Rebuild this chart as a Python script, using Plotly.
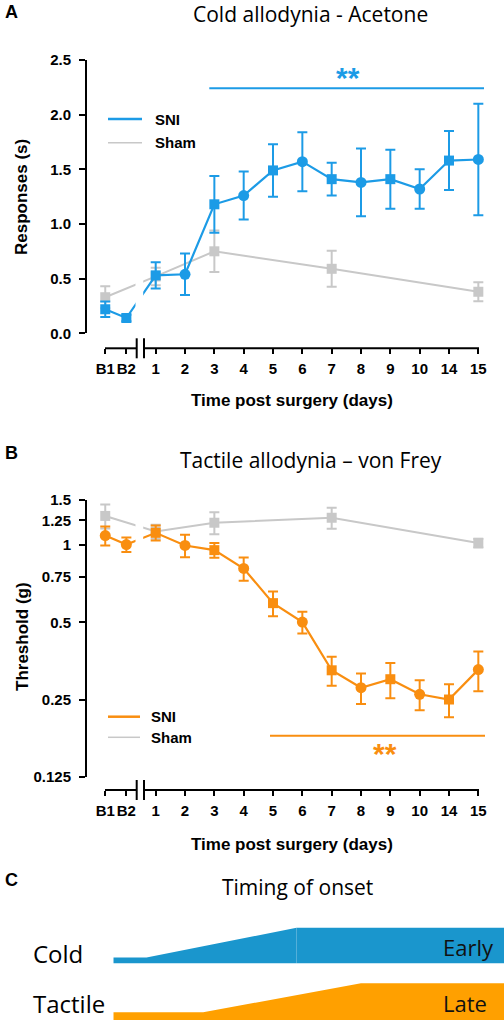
import plotly.graph_objects as go

# ---------------- data ----------------
days = ['B1', 'B2', '1', '2', '3', '4', '5', '6', '7', '8', '9', '10', '14', '15']
sham_days = ['B1', '1', '3', '7', '15']

# Panel A: cold allodynia (acetone), responses (s), mean and SEM
cold_sni = [0.22, 0.14, 0.53, 0.54, 1.18, 1.26, 1.49, 1.57, 1.41, 1.38, 1.41, 1.32, 1.58, 1.59]
cold_sni_sem = [0.07, 0.03, 0.12, 0.19, 0.26, 0.22, 0.24, 0.27, 0.15, 0.31, 0.27, 0.18, 0.27, 0.51]
cold_sham = [0.33, 0.52, 0.75, 0.59, 0.38]
cold_sham_sem = [0.10, 0.08, 0.19, 0.165, 0.087]

# Panel B: tactile allodynia (von Frey), threshold (g), mean and SEM
tact_sni = [1.09, 1.005, 1.117, 0.997, 0.956, 0.811, 0.594, 0.501, 0.325, 0.278, 0.300, 0.262, 0.250, 0.327]
tact_sni_sem = [0.093, 0.065, 0.075, 0.10, 0.063, 0.085, 0.066, 0.049, 0.042, 0.038, 0.047, 0.035, 0.037, 0.058]
tact_sham = [1.30, 1.13, 1.223, 1.279, 1.02]
tact_sham_sem = [0.14, 0.07, 0.12, 0.12, 0.04]

cold_ticks = [0, 0.5, 1.0, 1.5, 2.0, 2.5]
tact_ticks = [0.125, 0.25, 0.5, 0.75, 1, 1.25, 1.5]
tact_tick_text = ['0.125', '0.25', '0.5', '0.75', '1', '1.25', '1.5']

# Panel C: onset schematic (fraction of timeline -> relative intensity)
cold_onset_x = [0.0, 0.085, 0.469, 1.0]
cold_onset_level = [0.16, 0.16, 1.0, 1.0]
tact_onset_x = [0.0, 0.23, 0.634, 1.0]
tact_onset_level = [0.23, 0.23, 1.0, 1.0]

# ---------------- styles / layout helpers ----------------
W, H = 504, 1020
BLUE = '#1c9be6'
GRAY = '#c8c8c8'
ORANGE = '#f98e10'
C_BLUE = '#1a96cd'
C_ORANGE = '#ffa000'
ARIAL = 'Liberation Sans'
CAL = 'Open Sans'

def fx(p):
    return p / W

def fy(p):
    return 1 - p / H

# x scale: day label -> axis slot (baselines compressed before break)
slot = {'B1': -1.72, 'B2': -1.0}
for i, d in enumerate(days[2:]):
    slot[d] = i
xs = [slot[d] for d in days]
xs_sham = [slot[d] for d in sham_days]
UNIT = 29.33          # px per slot
X0PX = 155.7          # px of slot 0
DOM = (94, 490)       # x domain in px
XR = [(DOM[0] - X0PX) / UNIT, (DOM[1] - X0PX) / UNIT]

sym_a = ['square', 'square', 'square', 'circle', 'square', 'circle', 'square', 'circle',
         'square', 'circle', 'square', 'circle', 'square', 'circle']
sym_b = ['circle', 'circle', 'square', 'circle', 'square', 'circle', 'square', 'circle',
         'square', 'circle', 'square', 'circle', 'square', 'circle']
size_a = [10 if s == 'square' else 11 for s in sym_a]
size_b = [10 if s == 'square' else 11 for s in sym_b]

fig = go.Figure()

def add_series(x, y, err, color, xa, ya, symbols, sizes, lw):
    fig.add_trace(go.Scatter(
        x=x, y=y, xaxis=xa, yaxis=ya, mode='lines+markers', cliponaxis=False,
        line=dict(color=color, width=lw),
        marker=dict(color=color, symbol=symbols, size=sizes, opacity=1, line=dict(width=0)),
        error_y=dict(type='data', array=err, color=color, thickness=2, width=5),
        showlegend=False, hoverinfo='skip'))

add_series(xs_sham, cold_sham, cold_sham_sem, GRAY, 'x', 'y', 'square', 10, 2)
add_series(xs, cold_sni, cold_sni_sem, BLUE, 'x', 'y', sym_a, size_a, 2.2)
add_series(xs_sham, tact_sham, tact_sham_sem, GRAY, 'x2', 'y2', 'square', 10, 2)
add_series(xs, tact_sni, tact_sni_sem, ORANGE, 'x2', 'y2', sym_b, size_b, 2.2)

# Panel C schematic
for xv, lv, col, base, top in [
        (cold_onset_x, cold_onset_level, C_BLUE, 56.7, 92.3),
        (tact_onset_x, tact_onset_level, C_ORANGE, -1, 36.7)]:
    span = top - base
    px = xv[:3] + [xv[2], xv[0]]
    py = [base + span * l for l in lv[:3]] + [base, base]
    fig.add_trace(go.Scatter(x=px, y=py, xaxis='x3', yaxis='y3', mode='lines', fill='toself',
                             fillcolor=col, line=dict(width=0, color=col), showlegend=False,
                             hoverinfo='skip'))
    px2 = [xv[2], xv[3], xv[3], xv[2]]
    py2 = [base + span * lv[2], base + span * lv[3], base, base]
    fig.add_trace(go.Scatter(x=px2, y=py2, xaxis='x3', yaxis='y3', mode='lines', fill='toself',
                             fillcolor=col, line=dict(width=0, color=col), showlegend=False,
                             hoverinfo='skip'))

tickfont = dict(family=ARIAL, size=15, color='black', weight='bold')
x_common = dict(tickvals=xs, ticktext=days, range=XR, showline=False, showgrid=False,
                zeroline=False, ticks='outside', ticklen=5, tickwidth=2, tickcolor='black',
                tickangle=0, tickfont=tickfont, anchor='free', automargin=False,
                ticklabelstandoff=2, domain=[fx(DOM[0]), fx(DOM[1])])
y_common = dict(showline=True, linewidth=2, linecolor='black', ticks='outside', ticklen=6,
                tickwidth=2, tickcolor='black', showgrid=False, zeroline=False,
                tickfont=tickfont, anchor='free', position=fx(86), automargin=False,
                ticklabelstandoff=5)

fig.update_layout(
    width=W, height=H, margin=dict(l=0, r=0, t=0, b=0, pad=0, autoexpand=False), autosize=False,
    paper_bgcolor='white', plot_bgcolor='rgba(0,0,0,0)',
    xaxis=dict(**x_common, position=fy(348.3)),
    yaxis=dict(domain=[fy(333.3), fy(60)], range=[0, 2.5], tickvals=cold_ticks, tickformat='.1f',
               **y_common),
    xaxis2=dict(**x_common, position=fy(790)),
    yaxis2=dict(domain=[fy(776.7), fy(500)], type='log', range=[-0.90309, 0.176091],
                tickvals=tact_ticks, ticktext=tact_tick_text, **y_common),
    xaxis3=dict(domain=[fx(113.3), 1], range=[0, 1], visible=False, anchor='y3', automargin=False),
    yaxis3=dict(domain=[0, fy(920)], range=[0, 100], visible=False, anchor='x3', automargin=False),
)

shapes = []
ann = []

def line(x0, y0, x1, y1, color='black', w=2):
    shapes.append(dict(type='line', xref='paper', yref='paper', x0=fx(x0), y0=fy(y0),
                       x1=fx(x1), y1=fy(y1), line=dict(color=color, width=w), layer='above'))

def text(x, y, s, size, family=ARIAL, bold=True, color='black', xanchor='center', angle=0):
    ann.append(dict(xref='paper', yref='paper', x=fx(x), y=fy(y), text=s, showarrow=False,
                    xanchor=xanchor, yanchor='middle', textangle=angle,
                    font=dict(family=family, size=size, color=color,
                              weight='bold' if bold else 'normal')))

for ax_y, top, bot in [(348.3, 60, 336), (790, 495, 782)]:
    shapes.append(dict(type='rect', xref='paper', yref='paper', x0=fx(135.5), x1=fx(143.2),
                       y0=fy(bot), y1=fy(top), fillcolor='white', line=dict(width=0), layer='above'))
    line(105, ax_y, 136.7, ax_y)
    line(144, ax_y, 479, ax_y)
    line(136.7, ax_y - 10, 136.7, ax_y + 10)
    line(144, ax_y - 10, 144, ax_y + 10)

# significance bars
line(209.3, 88.3, 484, 88.3, BLUE, 2)
line(270, 735.7, 485, 735.7, ORANGE, 2)
text(348, 78, '**', 30, color=BLUE)
text(385, 753, '**', 30, color=ORANGE)

# legends
line(108, 119, 142, 119, BLUE, 2.5)
line(108, 142.7, 142, 142.7, GRAY, 1.5)
text(153, 119, 'SNI', 15, xanchor='left')
text(153, 142.7, 'Sham', 15, xanchor='left')
line(108, 716.7, 140, 716.7, ORANGE, 2.5)
line(108, 737.3, 140, 737.3, GRAY, 1.5)
text(149, 716.7, 'SNI', 15, xanchor='left')
text(149, 737.3, 'Sham', 15, xanchor='left')

# titles and labels
text(3, 12, 'A', 18, xanchor='left')
text(310, 14, 'Cold allodynia - Acetone', 21, family=CAL, bold=False)
text(22, 197, 'Responses (s)', 17, angle=-90)
text(292, 401, 'Time post surgery (days)', 17)

text(3, 453, 'B', 18, xanchor='left')
text(311, 460, 'Tactile allodynia \u2013 von Frey', 21, family=CAL, bold=False)
text(22, 637, 'Threshold (g)', 17, angle=-90)
text(292, 844, 'Time post surgery (days)', 17)

text(3, 880, 'C', 18, xanchor='left')
text(297, 887, 'Timing of onset', 21, family=CAL, bold=False)
text(31, 953, 'Cold', 24, family=CAL, bold=False, xanchor='left')
text(31, 1003, 'Tactile', 24, family=CAL, bold=False, xanchor='left')
text(496, 947, 'Early', 22, family=CAL, bold=False, color='#111111', xanchor='right')
text(489, 1003, 'Late', 22, family=CAL, bold=False, color='#111111', xanchor='right')

fig.update_layout(shapes=shapes, annotations=ann)
fig.write_html('out.html', config={'displayModeBar': False},
               post_script="document.body.style.margin='0';document.body.style.overflow='hidden';")
